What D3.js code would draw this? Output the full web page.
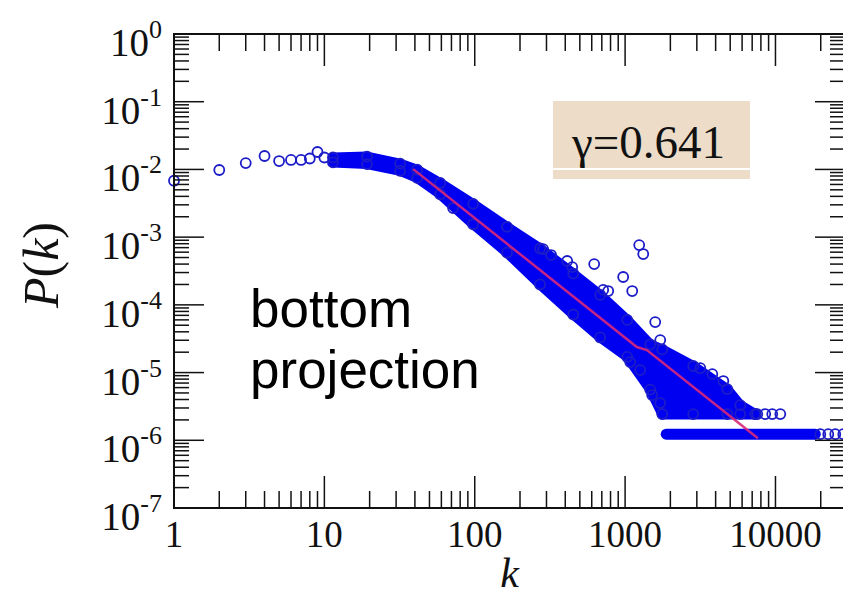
<!DOCTYPE html>
<meta charset="utf-8">
<style>
body { margin: 0; background: #fff; }
svg { display: block; }
.tick line { stroke: #111; stroke-width: 1.5px; }
.lbl { font-family: "Liberation Serif", "DejaVu Serif", serif; fill: #111; }
</style>
<svg width="843" height="595"></svg>
<script src="https://d3js.org/d3.v7.min.js"></script>
<script>
// ---- data ----
var earlyK = [1, 2, 3, 4, 5, 6, 7, 8, 9, 10];
var earlyP = [0.0068, 0.0098, 0.0124, 0.0158, 0.0133, 0.0138, 0.0138, 0.0145, 0.0181, 0.0150];

// dense part of the cloud: upper / lower edge of the circles at each k
var bandK  = [11.4, 19.2, 31.9, 41.4, 58.9, 97.6, 164, 272, 452, 683, 1033, 1469, 1766, 2838, 4780, 5830, 7340];
var bandHi = [0.0150, 0.0155, 0.0122, 0.0099, 0.0063, 0.0031, 0.00142, 6.8e-4, 2.9e-4, 1.4e-4, 6.0e-5, 2.6e-5, 2.2e-5, 1.25e-5, 5.7e-6, 3.3e-6, 2.44e-6];
var bandLo = [0.0127, 0.0120, 0.0095, 0.0075, 0.0043, 0.00155, 5.9e-4, 2.0e-4, 7.2e-5, 3.3e-5, 1.7e-5, 5.6e-6, 2.44e-6, 2.44e-6, 2.44e-6, 2.44e-6, 2.44e-6];

// rows of single counts at the bottom
var rowP     = [2.44e-6, 1.23e-6];
var rowStart = [1766, 1877];
var rowEnd   = [7340, 18400];
var rowTailK = [[7570, 8550, 9520, 10770], [19870, 22440, 24990, 28250]];

// scattered circles off the band
var outK = [285, 322, 412, 445, 623, 715, 772, 971, 1115, 1241, 1320, 1586, 1713, 3162, 3800, 4500, 71.8, 1081, 1260, 1513, 1713];
var outP = [6.67e-4, 5.44e-4, 4.44e-4, 3.61e-4, 4.0e-4, 1.66e-4, 1.6e-4, 2.58e-4, 1.6e-4, 7.64e-4, 5.63e-4, 5.57e-5, 3.02e-5, 1.16e-5, 9.5e-6, 7.5e-6, 2.69e-3, 1.43e-5, 1.09e-5, 4.66e-6, 3.54e-6];

// fitted line
var fitK = [39, 1197, 1396, 7640];
var fitP = [0.0101, 2.38e-5, 2.15e-5, 1.07e-6];

var xTickVals = [1, 10, 100, 1000, 10000];
var xTickLabels = ["1", "10", "100", "1000", "10000"];
var yTickExp = [0, -1, -2, -3, -4, -5, -6, -7];

var svg = d3.select("svg");

var pLeft = 174, pRight = 845, pTop = 34, pBottom = 508;

var x = d3.scaleLog().domain([1, 29000]).range([pLeft, pRight]);
var y = d3.scaleLog().domain([1e-7, 1]).range([pBottom, pTop]);

var blue = "#0000f0", ring = "#1c1cc8", r = 5;

// dense band
var bandData = bandK.map(function(k, i) { return {k: k, hi: bandHi[i], lo: bandLo[i]}; });
var area = d3.area()
    .x(function(d) { return x(d.k); })
    .y0(function(d) { return y(d.lo); })
    .y1(function(d) { return y(d.hi); });

svg.append("path")
    .datum(bandData)
    .attr("d", area)
    .attr("fill", blue)
    .attr("stroke", blue)
    .attr("stroke-width", 10)
    .attr("stroke-linejoin", "round");

// rows
rowP.forEach(function(p, i) {
    svg.append("line")
        .attr("x1", x(rowStart[i])).attr("x2", x(rowEnd[i]))
        .attr("y1", y(p)).attr("y2", y(p))
        .attr("stroke", blue)
        .attr("stroke-width", 11)
        .attr("stroke-linecap", "round");
});

var pts = [];
earlyK.forEach(function(k, i) { pts.push([k, earlyP[i]]); });
outK.forEach(function(k, i) { pts.push([k, outP[i]]); });
bandData.forEach(function(d) { pts.push([d.k, d.hi]); pts.push([d.k, d.lo]); });
rowTailK.forEach(function(ks, i) { ks.forEach(function(k) { pts.push([k, rowP[i]]); }); });

svg.append("g").selectAll("circle")
    .data(pts)
    .enter().append("circle")
    .attr("cx", function(d) { return x(d[0]); })
    .attr("cy", function(d) { return y(d[1]); })
    .attr("r", r)
    .attr("fill", "none")
    .attr("stroke", ring)
    .attr("stroke-width", 1.8);

// fit line
var fitLine = d3.line()
    .x(function(d) { return x(d[0]); })
    .y(function(d) { return y(d[1]); });

svg.append("path")
    .datum(fitK.map(function(k, i) { return [k, fitP[i]]; }))
    .attr("d", fitLine)
    .attr("fill", "none")
    .attr("stroke", "#d8287a")
    .attr("stroke-opacity", 0.9)
    .attr("stroke-width", 2.5);

// frame + ticks (all pointing inward)
svg.append("rect")
    .attr("x", pLeft).attr("y", pTop)
    .attr("width", pRight - pLeft).attr("height", pBottom - pTop)
    .attr("fill", "none")
    .attr("stroke", "#111")
    .attr("stroke-width", 2);

function isMajor(v) {
    var l = Math.log10(v);
    return Math.abs(l - Math.round(l)) < 1e-9;
}

var ticks = svg.append("g").attr("class", "tick");
x.ticks().forEach(function(t) {
    var len = isMajor(t) ? 32 : 17;
    ticks.append("line").attr("x1", x(t)).attr("x2", x(t)).attr("y1", pBottom).attr("y2", pBottom - len);
    ticks.append("line").attr("x1", x(t)).attr("x2", x(t)).attr("y1", pTop).attr("y2", pTop + len);
});
y.ticks().forEach(function(t) {
    var len = isMajor(t) ? 30 : 15;
    ticks.append("line").attr("y1", y(t)).attr("y2", y(t)).attr("x1", pLeft).attr("x2", pLeft + len);
    ticks.append("line").attr("y1", y(t)).attr("y2", y(t)).attr("x1", pRight).attr("x2", pRight - len);
});

// tick labels
svg.selectAll(".xl")
    .data(xTickVals)
    .enter().append("text")
    .attr("class", "lbl")
    .attr("x", function(d) { return x(d); })
    .attr("y", 547)
    .attr("text-anchor", "middle")
    .style("font-size", "37px")
    .text(function(d, i) { return xTickLabels[i]; });

var yl = svg.selectAll(".yl")
    .data(yTickExp)
    .enter().append("text")
    .attr("class", "lbl")
    .attr("x", 162)
    .attr("y", function(d) { return y(Math.pow(10, d)) + 22; })
    .attr("text-anchor", "end")
    .style("font-size", "39px");
yl.append("tspan").text("10");
yl.append("tspan")
    .attr("dy", -18)
    .style("font-size", "26px")
    .text(function(d) { return d; });

// axis titles
svg.append("text")
    .attr("class", "lbl")
    .attr("x", (pLeft + pRight) / 2)
    .attr("y", 587)
    .attr("text-anchor", "middle")
    .style("font-size", "42px")
    .style("font-style", "italic")
    .text("k");

var pk = svg.append("text")
    .attr("class", "lbl")
    .attr("transform", "translate(58,265) rotate(-90)")
    .attr("text-anchor", "middle")
    .style("font-size", "50px");
pk.append("tspan").style("font-style", "italic").text("P");
pk.append("tspan").text("(");
pk.append("tspan").style("font-style", "italic").text("k");
pk.append("tspan").text(")");

// annotations
svg.append("text")
    .attr("x", 250).attr("y", 327)
    .style("font-family", "'Liberation Sans', Arial, sans-serif")
    .style("font-size", "53px")
    .text("bottom");
svg.append("text")
    .attr("x", 250).attr("y", 388)
    .style("font-family", "'Liberation Sans', Arial, sans-serif")
    .style("font-size", "53px")
    .text("projection");

svg.append("rect")
    .attr("x", 553).attr("y", 101)
    .attr("width", 197).attr("height", 78)
    .attr("fill", "#ecdcc8");
svg.append("line")
    .attr("x1", 553).attr("x2", 750)
    .attr("y1", 169).attr("y2", 169)
    .attr("stroke", "#fff")
    .attr("stroke-width", 2);
svg.append("text")
    .attr("class", "lbl")
    .attr("x", 572).attr("y", 158)
    .style("font-size", "47px")
    .text("\u03b3=0.641");
</script>
